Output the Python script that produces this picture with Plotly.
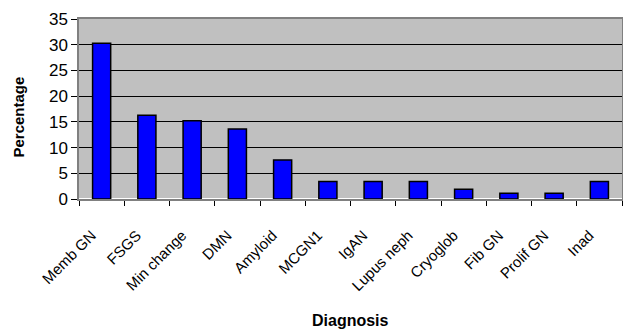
import plotly.graph_objects as go

categories = ["Memb GN", "FSGS", "Min change", "DMN", "Amyloid", "MCGN1", "IgAN",
              "Lupus neph", "Cryoglob", "Fib GN", "Prolif GN", "Inad"]
percentages = [30.3, 16.3, 15.2, 13.6, 7.6, 3.4, 3.4, 3.4, 1.9, 1.1, 1.1, 3.4]

fig = go.Figure(go.Bar(
    x=categories, y=percentages,
    marker=dict(color="#0000FF", line=dict(color="#000000", width=1.5)),
    width=0.4,
))

fig.update_layout(
    width=623, height=329,
    margin=dict(l=79, r=1, t=19, b=130, autoexpand=False),
    paper_bgcolor="white", plot_bgcolor="#C0C0C0",
    font=dict(family="Liberation Sans, Arial, sans-serif", color="black"),
    showlegend=False,
    annotations=[
        dict(text="<b>Percentage</b>", xref="paper", yref="paper",
             x=-79 / 543 + 17.5 / 543, y=(199 - 117) / 180, textangle=-90,
             showarrow=False, font=dict(size=15), xanchor="center", yanchor="middle"),
        dict(text="<b>Diagnosis</b>", xref="paper", yref="paper",
             x=0.5, y=-(320 - 199) / 180, showarrow=False, font=dict(size=16),
             xanchor="center", yanchor="middle"),
    ],
)
fig.update_xaxes(
    type="category", tickangle=-45, tickfont=dict(size=15), automargin=False,
    ticks="outside", tickson="boundaries", ticklen=5, tickcolor="black",
    ticklabelstandoff=20, ticklabelshift=-10,
    showline=True, linecolor="#808080", linewidth=1.5, mirror=True,
    showgrid=False,
)
fig.update_yaxes(
    range=[0, 35], dtick=5, tickfont=dict(size=17), automargin=False,
    ticks="outside", ticklen=6, tickcolor="black",
    showline=True, linecolor="#808080", linewidth=1.5, mirror=True,
    showgrid=True, gridcolor="black", gridwidth=1,
)

fig.write_html("out.html", config={"displayModeBar": False},
               post_script="document.body.style.margin='0';")
